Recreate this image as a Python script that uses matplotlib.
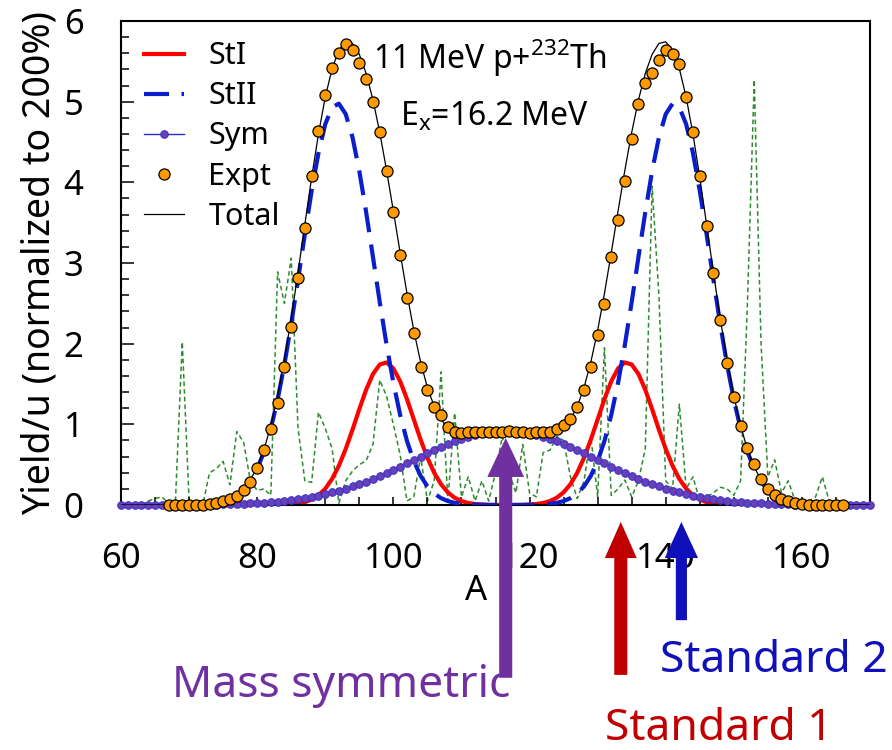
import numpy as np
import matplotlib
matplotlib.use('Agg')
import matplotlib.pyplot as plt
from matplotlib.ticker import MultipleLocator

plt.rcParams['font.family'] = 'Noto Sans'
plt.rcParams['mathtext.fontset'] = 'custom'
plt.rcParams['mathtext.rm'] = 'Noto Sans'
plt.rcParams['mathtext.it'] = 'Noto Sans'
plt.rcParams['mathtext.default'] = 'regular'

# mass numbers of the fitted components
mass = list(range(60, 171))

sti = [0, 0, 0, 0, 0, 0, 0, 0, 0, 0,
       0, 0, 0, 0, 0, 0, 0, 0, 0, 0,
       0.000, 0.000, 0.001, 0.002, 0.004, 0.008, 0.018, 0.035, 0.067, 0.120,
       0.202, 0.323, 0.487, 0.694, 0.934, 1.188, 1.429, 1.623, 1.742, 1.767,
       1.693, 1.534, 1.312, 1.061, 0.811, 0.585, 0.399, 0.257, 0.157, 0.090,
       0.049, 0.025, 0.012, 0.006, 0.002, 0.001, 0.000,
       0.000, 0.001, 0.002, 0.006, 0.012, 0.025, 0.049,
       0.090, 0.157, 0.257, 0.399, 0.585, 0.811, 1.061, 1.312, 1.534, 1.693,
       1.767, 1.742, 1.623, 1.429, 1.188, 0.934, 0.694, 0.487, 0.323, 0.202,
       0.120, 0.067, 0.035, 0.018, 0.008, 0.004, 0.002, 0.001, 0.000, 0.000,
       0, 0, 0, 0, 0, 0, 0, 0, 0, 0,
       0, 0, 0, 0, 0, 0, 0]

stii = [0, 0, 0, 0, 0, 0, 0, 0, 0, 0,
        0.001, 0.002, 0.005, 0.011, 0.020, 0.037, 0.065, 0.111, 0.183, 0.290,
        0.446, 0.660, 0.945, 1.306, 1.743, 2.245, 2.794, 3.357, 3.895, 4.363,
        4.721, 4.931, 4.975, 4.846, 4.558, 4.140, 3.631, 3.076, 2.516, 1.987,
        1.515, 1.116, 0.793, 0.545, 0.361, 0.231, 0.143, 0.085, 0.049, 0.027,
        0.015, 0.008, 0.004, 0.002, 0.001, 0.000, 0.000,
        0.000, 0.000, 0.001, 0.002, 0.004, 0.008, 0.015,
        0.027, 0.049, 0.085, 0.143, 0.231, 0.361, 0.545, 0.793, 1.116, 1.515,
        1.987, 2.516, 3.076, 3.631, 4.140, 4.558, 4.846, 4.975, 4.931, 4.721,
        4.363, 3.895, 3.357, 2.794, 2.245, 1.743, 1.306, 0.945, 0.660, 0.446,
        0.290, 0.183, 0.111, 0.065, 0.037, 0.020, 0.011, 0.005, 0.002, 0.001,
        0, 0, 0, 0, 0, 0, 0]

sym = [0.000, 0.000, 0.000, 0.000, 0.001, 0.001, 0.001, 0.001, 0.002, 0.002,
       0.003, 0.003, 0.004, 0.005, 0.006, 0.008, 0.010, 0.013, 0.016, 0.019,
       0.024, 0.029, 0.035, 0.042, 0.051, 0.061, 0.072, 0.085, 0.099, 0.115,
       0.134, 0.155, 0.177, 0.202, 0.230, 0.259, 0.290, 0.324, 0.360, 0.397,
       0.436, 0.476, 0.517, 0.558, 0.599, 0.640, 0.680, 0.718, 0.755, 0.788,
       0.819, 0.847, 0.870, 0.890, 0.904, 0.914, 0.920,
       0.920, 0.914, 0.904, 0.890, 0.870, 0.847, 0.819,
       0.788, 0.755, 0.718, 0.680, 0.640, 0.599, 0.558, 0.517, 0.476, 0.436,
       0.397, 0.360, 0.324, 0.290, 0.259, 0.230, 0.202, 0.177, 0.155, 0.134,
       0.115, 0.099, 0.085, 0.072, 0.061, 0.051, 0.042, 0.035, 0.029, 0.024,
       0.019, 0.016, 0.013, 0.010, 0.008, 0.006, 0.005, 0.004, 0.003, 0.003,
       0.002, 0.002, 0.001, 0.001, 0.001, 0.001, 0.000]

# experimental yields
expt_mass = list(range(67, 167))
expt = [0.00, 0.00, 0.00, 0.00, 0.00, 0.00, 0.01, 0.03, 0.05, 0.08,
        0.11, 0.18, 0.28, 0.46, 0.68, 0.94, 1.26, 1.71, 2.21, 2.81,
        3.43, 4.08, 4.64, 5.08, 5.42, 5.60, 5.71, 5.64, 5.48, 5.28,
        4.99, 4.62, 4.14, 3.63, 3.10, 2.56, 2.13, 1.71, 1.42, 1.22,
        1.11, 0.97, 0.91, 0.89, 0.90, 0.91, 0.91, 0.91, 0.91, 0.91,
        0.92, 0.91, 0.90, 0.89, 0.91, 0.91, 0.91, 0.94, 0.99, 1.07,
        1.21, 1.42, 1.71, 2.11, 2.49, 3.07, 3.53, 4.02, 4.54, 4.97,
        5.23, 5.36, 5.52, 5.64, 5.59, 5.47, 5.06, 4.63, 4.08, 3.46,
        2.88, 2.29, 1.76, 1.34, 0.98, 0.71, 0.51, 0.32, 0.20, 0.12,
        0.08, 0.05, 0.03, 0.01, 0.00, 0.00, 0.00, 0.00, 0.00, 0.00]

# green dotted curve (not in legend)
green_mass = list(range(63, 166))
green = [0.00, 0.05, 0.08, 0.10, 0.02, 0.06, 2.02, 0.05, 0.02, 0.00,
         0.40, 0.45, 0.54, 0.25, 0.91, 0.78, 0.30, 0.18, 0.20, 0.12,
         2.89, 2.50, 3.06, 0.95, 0.30, 0.28, 1.15, 0.95, 0.70, 0.02,
         0.30, 0.42, 0.50, 0.55, 0.75, 1.55, 1.35, 1.00, 0.62, 0.05,
         0.10, 0.60, 0.05, 0.30, 1.65, 0.05, 1.14, 0.10, 0.35, 0.05,
         0.30, 0.05, 0.40, 0.85, 0.40, 0.15, 0.75, 0.15, 0.10, 0.65,
         0.68, 0.85, 0.80, 0.35, 0.08, 0.30, 0.85, 0.10, 1.95, 0.12,
         0.20, 0.31, 0.10, 0.30, 0.70, 3.95, 2.60, 0.30, 0.20, 1.25,
         0.20, 0.35, 0.05, 0.10, 0.15, 0.22, 0.20, 0.12, 0.30, 2.50,
         5.27, 2.00, 0.35, 0.56, 0.15, 0.30, 0.05, 0.02, 0.05, 0.10,
         0.35, 0.05, 0.00]

total = np.array(sti) + np.array(stii) + np.array(sym)

fig = plt.figure(figsize=(8.92, 7.5), dpi=100)
ax = fig.add_axes([121 / 892, 245 / 750, 749 / 892, 484 / 750])

ax.plot(green_mass, green, color='#2e8b2e', lw=1.1, ls=(0, (3, 2)), zorder=1)
l1, = ax.plot(mass, sti, color='#ff0000', lw=3, label='StI', zorder=2)
l2, = ax.plot(mass, stii, color='#0a1ecc', lw=3, ls=(0, (6, 3)), label='StII', zorder=3)
l3, = ax.plot(mass, sym, color='#2a2ad0', lw=1, marker='o', ms=5.5, mfc='#6a3fb8',
              mec='#3434c8', mew=0.7, label='Sym', zorder=4, clip_on=False)
l5, = ax.plot(mass, total, color='black', lw=0.9, label='Total', zorder=5)
l4, = ax.plot(expt_mass, expt, ls='none', marker='o', ms=8, mfc='#ff9900',
              mec='black', mew=0.9, label='Expt', zorder=6, clip_on=False)

ax.set_xlim(60, 170)
ax.set_ylim(0, 6)
ax.set_xticks([60, 80, 100, 120, 140, 160])
ax.xaxis.set_minor_locator(MultipleLocator(5))
ax.set_yticks([0, 1, 2, 3, 4, 5, 6])
ax.yaxis.set_minor_locator(MultipleLocator(0.2))
ax.tick_params(which='both', direction='in', top=False, right=False, width=1.1,
               labelsize=25, pad=27)
ax.tick_params(axis='x', which='both', length=6)
ax.tick_params(axis='y', which='major', length=9)
ax.tick_params(axis='y', which='minor', length=6)
for s in ax.spines.values():
    s.set_linewidth(1.5)

ax.set_ylabel('Yield/u (normalized to 200%)', fontsize=27)
ax.yaxis.set_label_coords(-0.083, 0.5)
ax.set_xlabel('A', fontsize=25)
ax.xaxis.set_label_coords(0.474, -0.143)

ax.legend(handles=[l1, l2, l3, l4, l5], loc='upper left', bbox_to_anchor=(0.031, 0.958),
          frameon=False, fontsize=22, borderpad=0, borderaxespad=0, labelspacing=0.33,
          handlelength=1.3, handletextpad=0.8, numpoints=1)

ax.text(0.336, 0.900, '11 MeV p+$^{232}$Th', transform=ax.transAxes, fontsize=23,
        va='baseline', ha='left')
ax.text(0.372, 0.783, 'E$_{x}$=16.2 MeV', transform=ax.transAxes, fontsize=23,
        va='baseline', ha='left')

# arrows pointing at the three fission modes
ax.annotate('', xy=(116.5, 0.83), xycoords='data',
            xytext=(116.5, -0.357), textcoords=('data', 'axes fraction'),
            arrowprops=dict(facecolor='#7030a0', edgecolor='none', width=9.4,
                            headwidth=26.5, headlength=28, shrink=0), zorder=10)
ax.annotate('', xy=(133.4, -0.035), xycoords=('data', 'axes fraction'),
            xytext=(133.4, -0.351), textcoords=('data', 'axes fraction'),
            arrowprops=dict(facecolor='#c00000', edgecolor='none', width=9.4,
                            headwidth=23, headlength=26, shrink=0), zorder=10)
ax.annotate('', xy=(142.3, -0.035), xycoords=('data', 'axes fraction'),
            xytext=(142.3, -0.238), textcoords=('data', 'axes fraction'),
            arrowprops=dict(facecolor='#1010bb', edgecolor='none', width=8,
                            headwidth=24, headlength=26, shrink=0), zorder=10)

fig.text(0.382, 0.0707, 'Mass symmetric', color='#7030a0', fontsize=32,
         ha='center', va='baseline')
fig.text(0.740, 0.104, 'Standard 2', color='#1010bb', fontsize=32,
         ha='left', va='baseline')
fig.text(0.678, 0.014, 'Standard 1', color='#c00000', fontsize=32,
         ha='left', va='baseline')

fig.savefig('out.png', dpi=100)
